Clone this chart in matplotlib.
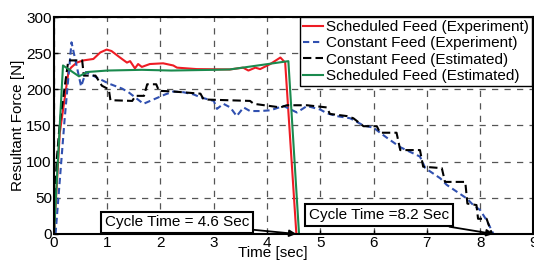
import matplotlib
matplotlib.use("Agg")
import matplotlib.pyplot as plt

plt.rcParams['font.family'] = ['Liberation Sans', 'DejaVu Sans']

# Scheduled Feed (Experiment)
red_x = [0, 0.11, 0.27, 0.32, 0.43, 0.55, 0.74, 0.87, 0.99, 1.08, 1.24, 1.37, 1.43,
         1.52, 1.58, 1.65, 1.8, 2.05, 2.24, 2.31, 2.68, 3.3, 3.55, 3.65, 3.78, 3.87,
         4.06, 4.25, 4.34, 4.55]
red_y = [0, 140, 223, 230, 237, 240, 242, 251, 255, 253, 244, 237, 239,
         229, 235, 231, 235, 236, 233, 230, 228, 227.5, 230, 226, 230, 228,
         235, 244, 237, 0]

# Constant Feed (Experiment)
blue_x = [0.03, 0.2, 0.33, 0.51, 0.6, 0.84, 1.03, 1.28, 1.4, 1.68, 2.09, 2.24, 2.43,
          2.62, 2.75, 3.0, 3.06, 3.18, 3.31, 3.43, 3.56, 3.68, 3.87, 4.06, 4.31,
          4.56, 4.75, 5.0, 5.12, 5.31, 5.56, 5.81, 6.0, 6.12, 6.25, 6.5, 6.87,
          6.97, 7.25, 7.37, 7.75, 7.87, 8.0, 8.12, 8.25]
blue_y = [0, 158, 265, 204, 224, 215, 208, 201, 196, 180, 193, 197, 196,
          193, 189, 184, 173, 180, 175, 163, 175, 170, 170, 171, 177,
          168, 177, 172, 167, 163, 160, 150, 147, 140, 133, 120, 107,
          91, 77, 68, 49, 40, 33, 19, 0]

# Constant Feed (Estimated)
black_x = [0, 0.05, 0.11, 0.27, 0.53, 0.56, 0.78, 0.9, 1.03, 1.06, 1.47, 1.53, 1.69,
           1.75, 1.92, 1.97, 2.24, 2.75, 2.81, 3.68, 3.75, 4.25, 4.37, 4.75, 5.12,
           5.18, 5.5, 5.62, 5.69, 5.81, 6.06, 6.12, 6.43, 6.5, 6.87, 6.93, 7.28,
           7.34, 7.72, 7.76, 7.93, 7.96, 8.12, 8.22]
black_y = [0, 100, 154, 240, 240, 219, 219, 205, 200, 185, 184, 191, 191,
           207, 207, 198, 197, 194, 186, 184, 180, 175, 178, 178, 175,
           166, 163, 160, 156, 149, 149, 140, 140, 116, 116, 93, 91,
           72, 72, 42, 40, 21, 21, 0]

# Scheduled Feed (Estimated)
green_x = [0, 0.17, 0.47, 0.63, 1.0, 1.65, 2.2, 3.0, 3.3, 4.4, 4.6]
green_y = [0, 233, 218, 224, 226, 227, 226, 227, 227.5, 239, 0]

labels = ['Scheduled Feed (Experiment)', 'Constant Feed (Experiment)',
          'Constant Feed (Estimated)', 'Scheduled Feed (Estimated)']
x_ticks = list(range(0, 10))
y_ticks = list(range(0, 301, 50))

fig = plt.figure(figsize=(5.34, 2.62), dpi=100)
ax = fig.add_axes([0.101, 0.107, 0.898, 0.828])

ax.plot(red_x, red_y, color='#ee1c24', lw=1.5, label=labels[0])
ax.plot(blue_x, blue_y, color='#3050b0', lw=1.5, ls=(0, (3, 1.8)), label=labels[1])
ax.plot(black_x, black_y, color='black', lw=1.5, ls=(0, (4, 2)), label=labels[2])
ax.plot(green_x, green_y, color='#1a8a4e', lw=1.5, label=labels[3])

ax.set_xlim(0, 9)
ax.set_ylim(0, 300)
ax.set_xticks(x_ticks)
ax.set_yticks(y_ticks)
ax.tick_params(direction='in', length=3, labelsize=11, width=1, pad=1.5)
ax.grid(True, color='#555555', ls=(0, (5, 5)), lw=0.9)
for s in ax.spines.values():
    s.set_linewidth(1.5)

ax.set_ylabel('Resultant Force [N]', fontsize=11, labelpad=1)
ax.set_xlabel('Time [sec]', fontsize=11)
ax.xaxis.set_label_coords(0.457, -0.055)

leg = ax.legend(loc='upper right', bbox_to_anchor=(0.997, 1.0), borderaxespad=0,
                fontsize=11, handlelength=1.3, handletextpad=0.2, labelspacing=0.15,
                borderpad=0.2, fancybox=False, framealpha=1)
leg.get_frame().set_edgecolor('black')
leg.get_frame().set_linewidth(1.0)

bbox = dict(boxstyle='square,pad=0.25', fc='white', ec='black', lw=1.5)
ax.annotate('Cycle Time = 4.6 Sec', xy=(4.55, 0), xytext=(2.31, 16),
            fontsize=11, ha='center', va='center', bbox=bbox,
            arrowprops=dict(arrowstyle='-|>', color='black', lw=1.3,
                            shrinkA=0, shrinkB=0, mutation_scale=10))
ax.annotate('Cycle Time =8.2 Sec', xy=(8.25, 0), xytext=(6.1, 26),
            fontsize=11, ha='center', va='center', bbox=bbox,
            arrowprops=dict(arrowstyle='-|>', color='black', lw=1.3,
                            shrinkA=0, shrinkB=0, mutation_scale=10))

fig.savefig('out.png', dpi=100)
